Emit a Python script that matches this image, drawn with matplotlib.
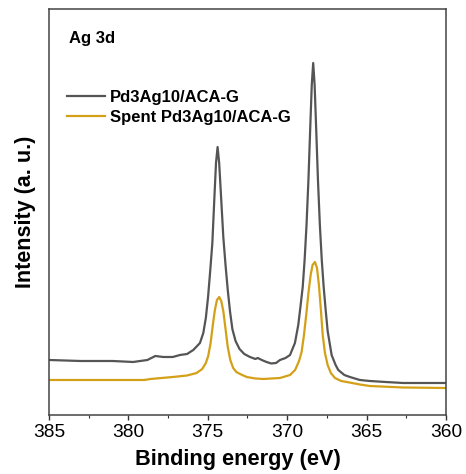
import matplotlib
matplotlib.use("Agg")
import matplotlib.pyplot as plt
from matplotlib.ticker import MultipleLocator

# binding energy (eV) / intensity (a.u.)
fresh_be = [385.0, 383.0, 381.0, 379.7, 378.8, 378.3, 377.8, 377.2, 376.75, 376.3,
            375.91, 375.49, 375.28, 375.12, 374.98, 374.84, 374.71, 374.58, 374.48,
            374.38, 374.28, 374.16, 374.02, 373.88, 373.74, 373.6, 373.45, 373.25,
            373.0, 372.7, 372.34, 372.0, 371.85, 371.6, 371.3, 371.0, 370.7,
            370.45, 370.1, 369.82, 369.51, 369.30, 369.15, 369.02, 368.90, 368.78,
            368.66, 368.54, 368.45, 368.36, 368.27, 368.18, 368.06, 367.94, 367.82,
            367.70, 367.58, 367.45, 367.2, 366.95, 366.78, 366.4, 366.05, 365.42,
            364.8, 363.8, 362.7, 361.5, 360.0]
fresh_int = [55, 54, 54, 53, 55, 59, 58, 58, 60, 61,
             65, 72, 82, 97, 118, 145, 172, 218, 252,
             268, 252, 218, 178, 150, 125, 104, 86, 74,
             66, 61, 58, 56, 57, 55, 53, 51.5, 52,
             55, 57, 60, 72, 90, 110, 128, 155, 190,
             235, 290, 330, 352, 330, 290, 235, 190, 155,
             128, 106, 84, 60, 50, 45, 40, 38, 35,
             34, 33, 32, 32, 32]

spent_be = [385.0, 383.0, 381.0, 379.0, 378.6, 377.2, 376.3, 375.7, 375.35, 375.12,
            374.97, 374.82, 374.68, 374.55, 374.42, 374.28, 374.15, 374.02, 373.88,
            373.74, 373.58, 373.4, 373.2, 372.9, 372.55, 372.0, 371.5, 370.45,
            369.82, 369.5, 369.25, 369.09, 368.94, 368.8, 368.66, 368.52, 368.4,
            368.25, 368.12, 368.0, 367.88, 367.76, 367.62, 367.45, 367.25, 366.99,
            366.6, 366.25, 365.42, 364.8, 362.7, 360.0]
spent_int = [35, 35, 35, 35, 36, 38, 39.5, 42, 46, 52,
             59, 72, 90, 105, 115, 118, 114, 104, 86,
             68, 55, 47, 43, 40.5, 38, 36.5, 36, 37,
             40, 45, 54, 63, 80, 100, 122, 140, 150,
             153, 147, 130, 106, 80, 62, 50, 42, 37,
             34, 33, 30.5, 29, 27.5, 27]

labels = ["Pd3Ag10/ACA-G", "Spent Pd3Ag10/ACA-G"]
colors = ["#555555", "#D4A017"]

plt.rcParams['font.family'] = ['Liberation Sans', 'DejaVu Sans']

fig = plt.figure(figsize=(4.66, 4.74), dpi=100)
ax = fig.add_axes([0.105, 0.1245, 0.852, 0.8565])

ax.plot(fresh_be, fresh_int, color=colors[0], lw=1.6, label=labels[0])
ax.plot(spent_be, spent_int, color=colors[1], lw=1.6, label=labels[1])

ax.set_xlim(385, 360)
ax.set_ylim(0, 406)
ax.xaxis.set_major_locator(MultipleLocator(5))
ax.xaxis.set_minor_locator(MultipleLocator(2.5))
ax.set_yticks([])
ax.tick_params(axis='x', which='major', direction='out', length=3.5, width=1.0,
               labelsize=13.8, colors='#333333', labelcolor='black', pad=3)
ax.tick_params(axis='x', which='minor', direction='out', length=2, width=0.8,
               colors='#333333')
for s in ax.spines.values():
    s.set_color('#444444')
    s.set_linewidth(1.1)

ax.set_xlabel("Binding energy (eV)", fontsize=15.7, fontweight='bold', labelpad=6,
              x=0.475)
ax.set_ylabel("Intensity (a. u.)", fontsize=15.5, fontweight='bold', labelpad=9)

ax.text(0.05, 0.945, "Ag 3d", transform=ax.transAxes, fontsize=12,
        fontweight='bold', va='top', ha='left')

ax.legend(loc='upper left', bbox_to_anchor=(0.045, 0.80), frameon=False,
          prop={'weight': 'bold', 'size': 12}, handlelength=2.28,
          handletextpad=0.3, labelspacing=0.26, borderaxespad=0, borderpad=0)

fig.savefig("out.png", dpi=100)
